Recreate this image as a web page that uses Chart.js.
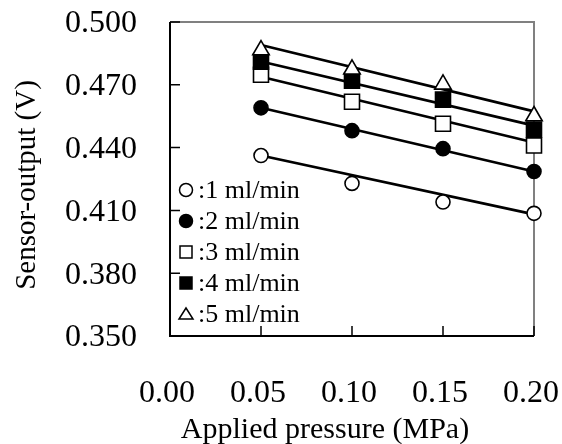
<!DOCTYPE html>
<html>
<head>
<meta charset="utf-8">
<script src="https://cdn.jsdelivr.net/npm/chart.js@4.4.1/dist/chart.umd.min.js"></script>
<style>
  html, body { margin: 0; padding: 0; background: #fff; }
  #wrap { width: 562px; height: 444px; }
</style>
</head>
<body>
<div id="wrap"><canvas id="chart" width="562" height="444"></canvas></div>
<script>
// applied pressure (MPa)
const pressures = [0.05, 0.10, 0.15, 0.20];

// sensor output (V) for each flow rate
const flow1 = [0.4362, 0.4229, 0.4140, 0.4086];
const flow2 = [0.4590, 0.4481, 0.4395, 0.4286];
const flow3 = [0.4748, 0.4619, 0.4514, 0.4410];
const flow4 = [0.4810, 0.4719, 0.4629, 0.4486];
const flow5 = [0.4866, 0.4774, 0.4702, 0.4551];

const fitX = [0.05, 0.20];
const fit1 = [0.4362, 0.4081];
const fit2 = [0.4590, 0.4286];
const fit3 = [0.4738, 0.4424];
const fit4 = [0.4811, 0.4505];
const fit5 = [0.4890, 0.4573];

const legendLabels = [':1 ml/min', ':2 ml/min', ':3 ml/min', ':4 ml/min', ':5 ml/min'];
const yTicks = [0.350, 0.380, 0.410, 0.440, 0.470, 0.500];
const xTicks = [0.00, 0.05, 0.10, 0.15, 0.20];

const FONT = "'Liberation Serif', 'Times New Roman', serif";

const styles = [
    { pointStyle: 'circle',   bg: '#fff', radius: 7 },
    { pointStyle: 'circle',   bg: '#000', radius: 7 },
    { pointStyle: 'rect',     bg: '#fff', radius: 10.6 },
    { pointStyle: 'rect',     bg: '#000', radius: 10.6 },
    { pointStyle: 'triangle', bg: '#fff', radius: 9.5 }
];

function toPoints(xs, ys) {
    return xs.map((x, i) => ({ x: x, y: ys[i] }));
}

const series = [flow1, flow2, flow3, flow4, flow5];
const fits = [fit1, fit2, fit3, fit4, fit5];

const datasets = [];
fits.forEach((f, i) => {
    datasets.push({
        label: 'fit' + (i + 1),
        data: toPoints(fitX, f),
        showLine: true,
        borderColor: '#000',
        borderWidth: 2.6,
        pointRadius: 0,
        order: 10,
        clip: false
    });
});
series.forEach((s, i) => {
    datasets.push({
        label: legendLabels[i],
        data: toPoints(pressures, s),
        showLine: false,
        pointStyle: styles[i].pointStyle,
        pointRadius: styles[i].radius,
        pointHoverRadius: styles[i].radius,
        pointBackgroundColor: styles[i].bg,
        pointBorderColor: '#000',
        pointBorderWidth: 1.6,
        order: 5 - i,
        clip: false
    });
});

// frame, inner ticks, axis titles and the legend
const decor = {
    id: 'decor',
    beforeDatasetsDraw(chart) {
        const ctx = chart.ctx;
        const a = chart.chartArea;
        const xs = chart.scales.x, ys = chart.scales.y;
        ctx.save();
        // gray top and right border
        ctx.strokeStyle = '#808080';
        ctx.lineWidth = 2;
        ctx.beginPath();
        ctx.moveTo(a.left, a.top);
        ctx.lineTo(a.right, a.top);
        ctx.lineTo(a.right, a.bottom);
        ctx.stroke();
        // black left and bottom axis
        ctx.strokeStyle = '#000';
        ctx.beginPath();
        ctx.moveTo(a.left, a.top);
        ctx.lineTo(a.left, a.bottom);
        ctx.lineTo(a.right, a.bottom);
        ctx.stroke();
        // inward ticks
        ctx.lineWidth = 1.5;
        ctx.beginPath();
        yTicks.forEach(v => {
            const py = ys.getPixelForValue(v);
            ctx.moveTo(a.left, py);
            ctx.lineTo(a.left + 10, py);
        });
        xTicks.forEach(v => {
            const px = xs.getPixelForValue(v);
            ctx.moveTo(px, a.bottom);
            ctx.lineTo(px, a.bottom - 10);
        });
        ctx.stroke();
        ctx.restore();
    },
    afterDraw(chart) {
        const ctx = chart.ctx;
        ctx.save();
        // axis titles
        ctx.fillStyle = '#000';
        ctx.textAlign = 'center';
        ctx.textBaseline = 'alphabetic';
        ctx.font = '30px ' + FONT;
        ctx.fillText('Applied pressure (MPa)', 325, 438);

        ctx.save();
        ctx.translate(35, 185);
        ctx.rotate(-Math.PI / 2);
        ctx.font = '29px ' + FONT;
        ctx.fillText('Sensor-output (V)', 0, 0);
        ctx.restore();

        // legend
        ctx.font = '26px ' + FONT;
        ctx.textAlign = 'left';
        ctx.textBaseline = 'middle';
        ctx.lineWidth = 1.5;
        legendLabels.forEach((lab, i) => {
            const cy = 190 + i * 31;
            const cx = 186;
            ctx.fillStyle = styles[i].bg;
            ctx.strokeStyle = '#000';
            ctx.beginPath();
            if (styles[i].pointStyle === 'circle') {
                ctx.arc(cx, cy, 6.5, 0, Math.PI * 2);
            } else if (styles[i].pointStyle === 'rect') {
                ctx.rect(cx - 6, cy - 6, 12, 12);
            } else {
                ctx.moveTo(cx, cy - 6);
                ctx.lineTo(cx + 7, cy + 5);
                ctx.lineTo(cx - 7, cy + 5);
                ctx.closePath();
            }
            ctx.fill();
            ctx.stroke();
            ctx.fillStyle = '#000';
            ctx.fillText(lab, 198, cy + 1);
        });
        ctx.restore();
    }
};

new Chart(document.getElementById('chart'), {
    type: 'scatter',
    data: { datasets: datasets },
    options: {
        responsive: false,
        animation: false,
        devicePixelRatio: 1,
        layout: { padding: { left: 0, right: 28, top: 22, bottom: 0 } },
        plugins: {
            legend: { display: false },
            tooltip: { enabled: false }
        },
        scales: {
            x: {
                type: 'linear',
                min: 0,
                max: 0.2,
                afterFit: s => { s.height = 108; s.paddingLeft = 0; s.paddingRight = 0; },
                afterBuildTicks: s => { s.ticks = xTicks.map(v => ({ value: v })); },
                grid: { display: false, drawTicks: false },
                border: { display: false },
                ticks: {
                    padding: 38,
                    labelOffset: -3,
                    color: '#000',
                    font: { family: FONT, size: 32 },
                    callback: v => Number(v).toFixed(2)
                },
                title: { display: false }
            },
            y: {
                type: 'linear',
                min: 0.35,
                max: 0.5,
                afterFit: s => { s.width = 170; s.paddingTop = 0; s.paddingBottom = 0; },
                afterBuildTicks: s => { s.ticks = yTicks.map(v => ({ value: v })); },
                grid: { display: false, drawTicks: false },
                border: { display: false },
                ticks: {
                    padding: 33,
                    labelOffset: 2,
                    color: '#000',
                    font: { family: FONT, size: 32 },
                    callback: v => Number(v).toFixed(3)
                },
                title: { display: false }
            }
        }
    },
    plugins: [decor]
});
</script>
</body>
</html>
